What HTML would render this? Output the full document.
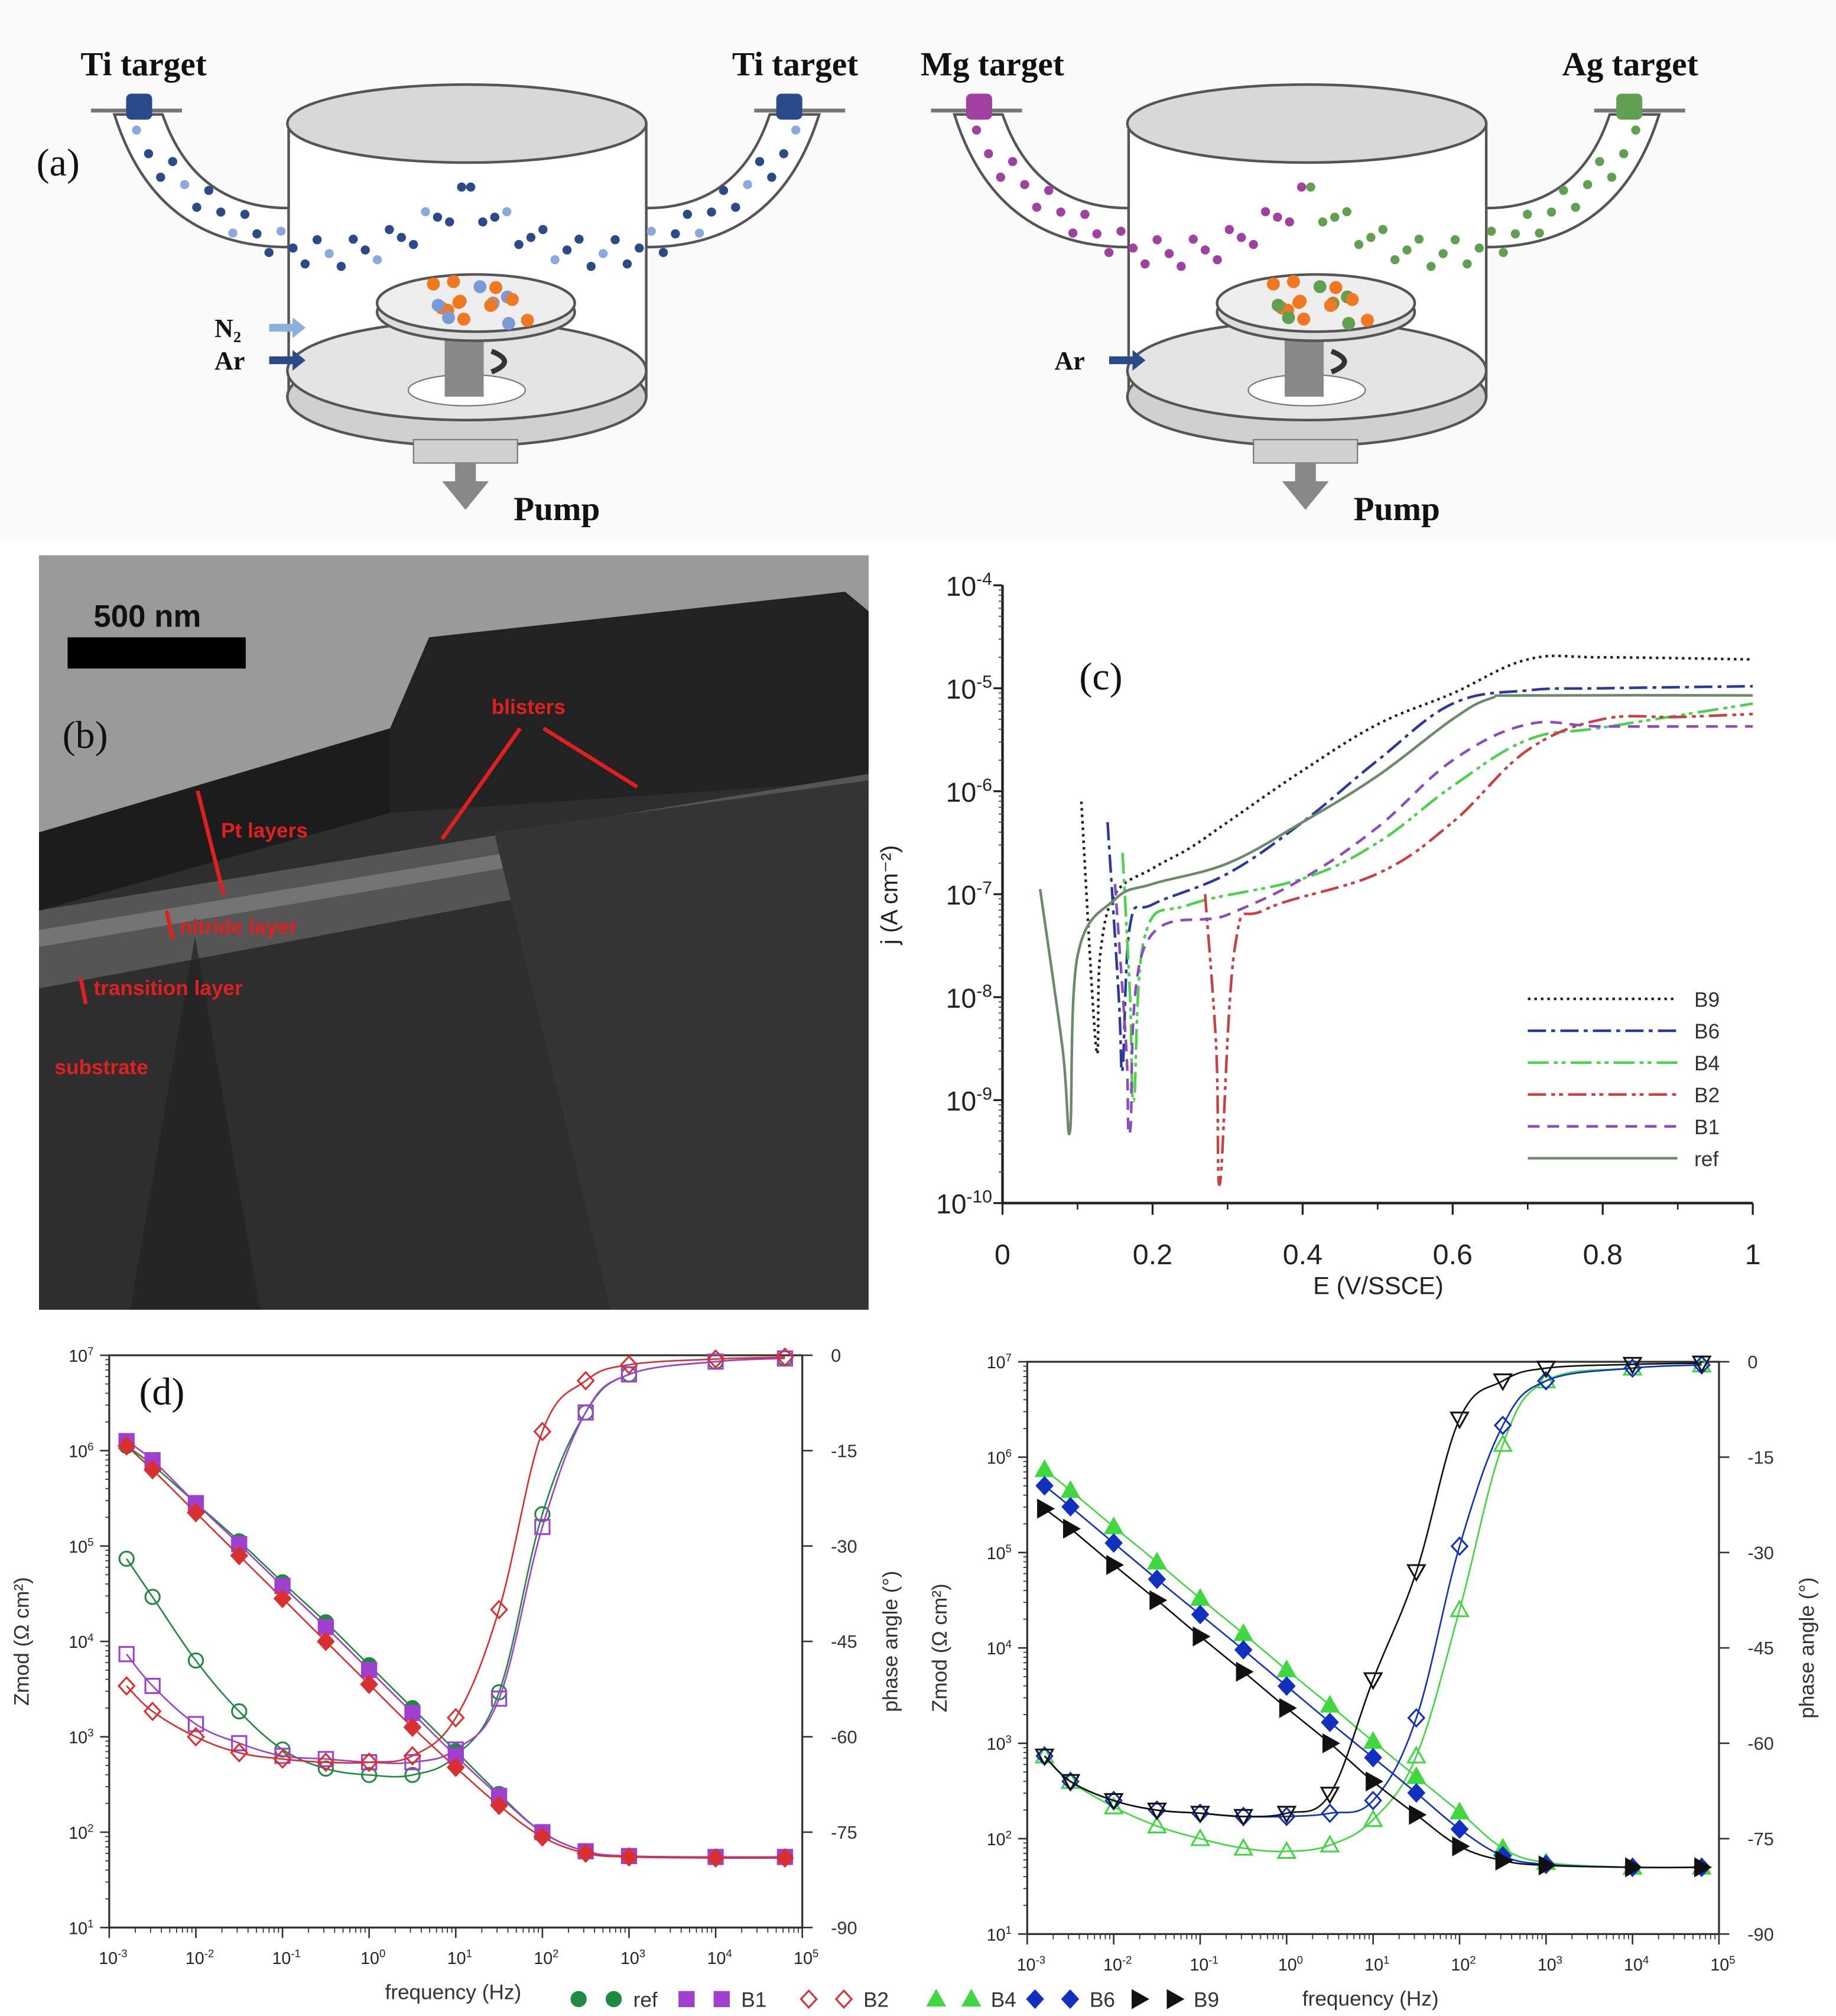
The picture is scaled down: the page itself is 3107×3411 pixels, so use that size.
<!DOCTYPE html>
<html><head><meta charset="utf-8"><style>
html,body{margin:0;padding:0;background:#fff;}
svg{display:block;}
text{font-family:"Liberation Sans",sans-serif;}
.serif{font-family:"Liberation Serif",serif;}
</style></head><body>
<svg id="fig" width="3107" height="3411" viewBox="0 0 1412 1550" preserveAspectRatio="none" xmlns="http://www.w3.org/2000/svg">
<g id="panelA"></g>
<g id="panelB"></g>
<g id="panelC"></g>
<g id="panelD1"></g>
<g id="panelD2"></g>
<g id="legendD"></g>
</svg>
<script>
// ---------- Panel (c) data ----------
const cSeriesNames = ['B9','B6','B4','B2','B1','ref'];
const cE_B9 = [0.105,0.125,0.13,0.15,0.2,0.25,0.3,0.4,0.5,0.6,0.7,0.8,1.0];
const cJ_B9 = [-6.1,-8.5,-7.6,-7.0,-6.75,-6.55,-6.3,-5.8,-5.35,-5.05,-4.72,-4.7,-4.72];
const cE_B6 = [0.14,0.155,0.16,0.17,0.2,0.3,0.4,0.5,0.6,0.7,0.8,1.0];
const cJ_B6 = [-6.3,-8.0,-8.7,-7.3,-7.1,-6.8,-6.3,-5.7,-5.15,-5.02,-5.0,-4.98];
const cE_B4 = [0.16,0.17,0.175,0.19,0.25,0.4,0.5,0.6,0.7,0.8,1.0];
const cJ_B4 = [-6.6,-8.0,-9.0,-7.4,-7.1,-6.85,-6.5,-5.95,-5.5,-5.38,-5.15];
const cE_B2 = [0.27,0.285,0.29,0.31,0.35,0.5,0.6,0.7,0.8,0.9,1.0];
const cJ_B2 = [-7.0,-8.5,-9.8,-7.5,-7.15,-6.8,-6.3,-5.6,-5.3,-5.28,-5.25];
const cE_B1 = [0.15,0.165,0.17,0.19,0.3,0.4,0.5,0.6,0.7,0.8,1.0];
const cJ_B1 = [-6.9,-8.5,-9.3,-7.5,-7.2,-6.85,-6.35,-5.7,-5.35,-5.37,-5.37];
const cE_ref = [0.05,0.08,0.09,0.1,0.15,0.2,0.3,0.4,0.5,0.6,0.65,0.7,1.0];
const cJ_ref = [-6.95,-8.5,-9.3,-7.6,-7.05,-6.9,-6.7,-6.3,-5.85,-5.3,-5.1,-5.07,-5.07];
const cXTicks = ['0','0.2','0.4','0.6','0.8','1'];
const cYTicks = [-4,-5,-6,-7,-8,-9,-10];

// ---------- Panel (d) data ----------
const dFreqLog = [-2.8,-2.5,-2,-1.5,-1,-0.5,0,0.5,1,1.5,2,2.5,3,4,4.8];
const zRef = [6.05,5.85,5.45,5.05,4.62,4.2,3.75,3.3,2.85,2.4,2.0,1.8,1.75,1.74,1.74];
const zB1  = [6.1,5.9,5.45,5.02,4.58,4.15,3.7,3.25,2.8,2.38,2.0,1.8,1.75,1.74,1.74];
const zB2  = [6.05,5.8,5.35,4.9,4.45,4.0,3.55,3.1,2.68,2.28,1.95,1.78,1.74,1.73,1.73];
const pRef = [-32,-38,-48,-56,-62,-65,-66,-66,-63,-53,-25,-9,-3,-1,-0.5];
const pB1  = [-47,-52,-58,-61,-63,-63.5,-64,-64,-62,-54,-27,-9,-3,-1,-0.5];
const pB2  = [-52,-56,-60,-62.5,-63.5,-64,-64,-63,-57,-40,-12,-4,-1.5,-0.6,-0.3];
const zB4  = [5.87,5.65,5.27,4.9,4.52,4.15,3.77,3.4,3.02,2.65,2.28,1.9,1.75,1.7,1.7];
const zB6  = [5.7,5.48,5.1,4.72,4.35,3.98,3.6,3.22,2.85,2.48,2.1,1.82,1.73,1.7,1.7];
const zB9  = [5.46,5.25,4.87,4.5,4.12,3.75,3.37,3.0,2.6,2.25,1.92,1.77,1.72,1.7,1.7];
const pB4  = [-62,-66,-70,-73,-75,-76.5,-77,-76,-72,-62,-39,-13,-3,-1,-0.5];
const pB6  = [-62,-66,-69,-70.5,-71,-71.5,-71.5,-71,-69,-56,-29,-10,-3,-1,-0.5];
const pB9  = [-62,-66,-69,-70.5,-71,-71.5,-71,-68,-50,-33,-9,-3,-1,-0.4,-0.2];
const dXTickExp = [-3,-2,-1,0,1,2,3,4,5];
const dYTickExp = [7,6,5,4,3,2,1];
const dPhaseTicks = [0,-15,-30,-45,-60,-75,-90];

const NS='http://www.w3.org/2000/svg';
function mk(tag, parent, attrs){const e=document.createElementNS(NS,tag);for(const k in attrs)e.setAttribute(k,attrs[k]);parent.appendChild(e);return e;}
function smooth(pts){
  let d='M'+pts[0][0].toFixed(1)+','+pts[0][1].toFixed(1);
  for(let i=0;i<pts.length-1;i++){
    const p0=pts[Math.max(0,i-1)],p1=pts[i],p2=pts[i+1],p3=pts[Math.min(pts.length-1,i+2)];
    const t=0.18;
    const c1=[p1[0]+(p2[0]-p0[0])*t,p1[1]+(p2[1]-p0[1])*t];
    const c2=[p2[0]-(p3[0]-p1[0])*t,p2[1]-(p3[1]-p1[1])*t];
    d+='C'+c1[0].toFixed(1)+','+c1[1].toFixed(1)+' '+c2[0].toFixed(1)+','+c2[1].toFixed(1)+' '+p2[0].toFixed(1)+','+p2[1].toFixed(1);
  }
  return d;
}
function sup(parent,x,y,base,exp,size,anchor){
  const t=mk('text',parent,{x:x,y:y,'font-size':size,'text-anchor':anchor||'end',fill:'#222'});
  const a=document.createElementNS(NS,'tspan');a.textContent=base;t.appendChild(a);
  const b=document.createElementNS(NS,'tspan');b.setAttribute('dy',-size*0.4);b.setAttribute('font-size',size*0.65);b.textContent=exp;t.appendChild(b);
  return t;
}

// ================= Panel A =================
const A=document.getElementById('panelA');
mk('rect',A,{x:0,y:0,width:1412,height:415,fill:'#fafafa'});
function chamber(ox,leftLbl,rightLbl,leftCol,rightCol,gases){
  const g=mk('g',A,{});
  mk('path',g,{d:`M${ox+88},88 Q${ox+120},190 ${ox+222},190 L${ox+222},160 Q${ox+150},160 ${ox+125},88 Z`,fill:'#fff',stroke:'#555','stroke-width':2});
  mk('path',g,{d:`M${ox+630},88 Q${ox+598},190 ${ox+497},190 L${ox+497},160 Q${ox+568},160 ${ox+592},88 Z`,fill:'#fff',stroke:'#555','stroke-width':2});
  mk('rect',g,{x:ox+222,y:95,width:275,height:210,fill:'#fff',stroke:'#555','stroke-width':2});
  mk('rect',g,{x:ox+223,y:160,width:8,height:30,fill:'#fff'});
  mk('rect',g,{x:ox+488,y:160,width:8,height:30,fill:'#fff'});
  mk('ellipse',g,{cx:ox+359,cy:95,rx:138,ry:30,fill:'#d8d8d8',stroke:'#555','stroke-width':2});
  mk('ellipse',g,{cx:ox+359,cy:305,rx:138,ry:38,fill:'#d0d0d0',stroke:'#555','stroke-width':2});
  mk('ellipse',g,{cx:ox+359,cy:285,rx:138,ry:38,fill:'#e4e4e4',stroke:'#555','stroke-width':2});
  mk('ellipse',g,{cx:ox+359,cy:300,rx:45,ry:12,fill:'#fff',stroke:'#777'});
  mk('rect',g,{x:ox+342,y:255,width:30,height:50,fill:'#888'});
  mk('path',g,{d:`M${ox+378},270 q20,8 0,16`,fill:'none',stroke:'#333','stroke-width':4});
  mk('rect',g,{x:ox+318,y:338,width:80,height:18,fill:'#d0d0d0',stroke:'#777'});
  mk('path',g,{d:`M${ox+350},356 h16 v14 h10 l-18,22 l-18,-22 h10 z`,fill:'#888'});
  mk('ellipse',g,{cx:ox+366,cy:240,rx:76,ry:22,fill:'#ddd',stroke:'#555','stroke-width':2});
  mk('ellipse',g,{cx:ox+366,cy:233,rx:76,ry:22,fill:'#eee',stroke:'#555','stroke-width':2});
  for(let i=0;i<18;i++){const a=i*2.39,r=12+(i%4)*15;
    mk('circle',g,{cx:ox+366+Math.cos(a)*r*1.1,cy:233+Math.sin(a)*r*0.3,r:5,fill:i%3==2?(ox?rightCol:'#7a9ad8'):'#f07820'});}
  mk('line',g,{x1:ox+70,y1:85,x2:ox+140,y2:85,stroke:'#777','stroke-width':3});
  mk('line',g,{x1:ox+580,y1:85,x2:ox+650,y2:85,stroke:'#777','stroke-width':3});
  mk('rect',g,{x:ox+97,y:72,width:20,height:20,rx:4,fill:leftCol});
  mk('rect',g,{x:ox+597,y:72,width:20,height:20,rx:4,fill:rightCol});
  for(let i=0;i<28;i++){const t=i/27;
    const x=ox+105+t*250,y=100+Math.sin(t*2.6)*85+(i%3)*10;
    mk('circle',g,{cx:x,cy:y,r:3.5,fill:i%4==0?(ox?leftCol:'#8aaadc'):leftCol});}
  for(let i=0;i<28;i++){const t=i/27;
    const x=ox+612-t*250,y=100+Math.sin(t*2.6)*85+(i%3)*10;
    mk('circle',g,{cx:x,cy:y,r:3.5,fill:i%4==0?(ox?rightCol:'#8aaadc'):rightCol});}
  const l1=mk('text',g,{x:ox+62,y:58,'font-size':26,'font-weight':'bold',class:'serif',fill:'#111'});l1.textContent=leftLbl;
  
  
  const l2=mk('text',g,{x:ox+660,y:58,'font-size':26,'font-weight':'bold',class:'serif','text-anchor':'end',fill:'#111'});l2.textContent=rightLbl;
  
  
  const p=mk('text',g,{x:ox+395,y:400,'font-size':26,'font-weight':'bold',class:'serif',fill:'#111'});p.textContent='Pump';
  
  
  gases.forEach((gs,i)=>{
    const yy=gs[2];
    const t=mk('text',g,{x:ox+gs[3],y:yy+7,'font-size':20,'font-weight':'bold',class:'serif',fill:'#111'});t.textContent=gs[0];
    
    
    mk('path',g,{d:`M${ox+gs[3]+42},${yy-3} h18 v-5 l10,8 l-10,8 v-5 h-18 z`,fill:gs[1]});
  });
}
chamber(0,'Ti target','Ti target','#2a4a8a','#2a4a8a',[['N₂','#8ab0e0',252,165],['Ar','#2a4a8a',277,165]]);
chamber(646,'Mg target','Ag target','#a040a0','#60a050',[['Ar','#2a4a8a',277,165]]);
const la=mk('text',A,{x:28,y:135,'font-size':30,class:'serif',fill:'#111'});la.textContent='(a)';



// ================= Panel B =================
const B=document.getElementById('panelB');
mk('rect',B,{x:30,y:427,width:638,height:580,fill:'#2e2e2e'});
mk('path',B,{d:'M30,427 H668 V470 L650,455 L330,490 L300,560 L30,640 Z',fill:'#9a9a9a'});
mk('path',B,{d:'M330,490 L650,455 L668,470 V600 L300,625 L300,560 Z',fill:'#222'});
mk('path',B,{d:'M30,640 L300,560 L300,625 L30,700 Z',fill:'#1c1c1c'});
mk('path',B,{d:'M30,700 L668,595 V640 L30,760 Z',fill:'#555'});
mk('path',B,{d:'M30,715 L668,610 V620 L30,728 Z',fill:'#888',opacity:0.6});
mk('path',B,{d:'M380,640 L470,1007 H668 V600 Z',fill:'#353535'});
mk('path',B,{d:'M150,720 L200,1007 H100 Z',fill:'#222',opacity:0.7});
mk('rect',B,{x:52,y:490,width:137,height:24,fill:'#000'});
const sb=mk('text',B,{x:72,y:482,'font-size':24,'font-weight':'bold',fill:'#111'});sb.textContent='500 nm';


const lb=mk('text',B,{x:48,y:575,'font-size':30,class:'serif',fill:'#111'});lb.textContent='(b)';


const redL=[['blisters',378,549],['Pt layers',170,644],['nitride layer',138,718],['transition layer',72,765],['substrate',42,826]];
redL.forEach(r=>{const t=mk('text',B,{x:r[1],y:r[2],'font-size':16,'font-weight':'bold',fill:'#e02020'});t.textContent=r[0];
  
  });
mk('line',B,{x1:400,y1:560,x2:340,y2:645,stroke:'#e02020','stroke-width':3});
mk('line',B,{x1:418,y1:560,x2:490,y2:605,stroke:'#e02020','stroke-width':3});
mk('line',B,{x1:152,y1:608,x2:172,y2:688,stroke:'#e02020','stroke-width':3});
mk('line',B,{x1:128,y1:700,x2:133,y2:722,stroke:'#e02020','stroke-width':3});
mk('line',B,{x1:62,y1:752,x2:66,y2:772,stroke:'#e02020','stroke-width':3});

// ================= Panel C =================
const C=document.getElementById('panelC');
const cx0=771,cx1=1348,cyTop=450,cyBot=925;
function cX(e){return cx0+e*(cx1-cx0);}
function cY(l){return cyTop+(-4-l)*(cyBot-cyTop)/6;}
mk('line',C,{x1:cx0,y1:cyTop,x2:cx0,y2:cyBot,stroke:'#222','stroke-width':2});
mk('line',C,{x1:cx0,y1:cyBot,x2:cx1,y2:cyBot,stroke:'#222','stroke-width':2});
cYTicks.forEach(l=>{
  mk('line',C,{x1:cx0-7,y1:cY(l),x2:cx0,y2:cY(l),stroke:'#222','stroke-width':1.5});
  for(let m=2;m<10;m++){ if(l>-10){const yy=cY(l-1+Math.log10(m)); mk('line',C,{x1:cx0-3,y1:yy,x2:cx0,y2:yy,stroke:'#444','stroke-width':0.8});}}
  const t=sup(C,cx0-8,cY(l)+8,'10',String(l),21);
  
  
});
cXTicks.forEach((s,i)=>{const x=cX(i*0.2);
  mk('line',C,{x1:x,y1:cyBot,x2:x,y2:cyBot+9,stroke:'#222','stroke-width':1.5});
  mk('line',C,{x1:x+57.7,y1:cyBot,x2:x+57.7,y2:cyBot+5,stroke:'#222','stroke-width':1.2,opacity:i<5?1:0});
  const t=mk('text',C,{x:x,y:cyBot+47,'font-size':22,'text-anchor':'middle',fill:'#222'});t.textContent=s;
  
  });
const cxt=mk('text',C,{x:1060,y:995,'font-size':19,'text-anchor':'middle',fill:'#222'});cxt.textContent='E (V/SSCE)';


const cyt=mk('text',C,{x:0,y:0,'font-size':18,'text-anchor':'middle',fill:'#222',transform:'translate(690,688) rotate(-90)'});cyt.textContent='j (A cm⁻²)';


const lc=mk('text',C,{x:830,y:530,'font-size':30,class:'serif',fill:'#111'});lc.textContent='(c)';


const cStyles={B9:['#222','2,3'],B6:['#2a3a9a','14,4,3,4'],B4:['#4ad24a','16,4,3,3,3,4'],B2:['#c84040','14,4,3,3,3,4'],B1:['#8a4ac0','9,6'],ref:['#6a8a6a','']};
const cData={B9:[cE_B9,cJ_B9],B6:[cE_B6,cJ_B6],B4:[cE_B4,cJ_B4],B2:[cE_B2,cJ_B2],B1:[cE_B1,cJ_B1],ref:[cE_ref,cJ_ref]};
cSeriesNames.forEach((n,i)=>{
  const d=cData[n];
  const pts=d[0].map((e,k)=>[cX(e),cY(d[1][k])]);
  const pa=mk('path',C,{d:smooth(pts),fill:'none',stroke:cStyles[n][0],'stroke-width':2,'stroke-dasharray':cStyles[n][1],'stroke-linejoin':'round'});
  
  
  const ly=768+i*24.5;
  const ll=mk('line',C,{x1:1175,y1:ly,x2:1290,y2:ly,stroke:cStyles[n][0],'stroke-width':2,'stroke-dasharray':cStyles[n][1]});
  
  
  const lt=mk('text',C,{x:1303,y:ly+6,'font-size':16,fill:'#333'});lt.textContent=n;
  
  
});

// ================= Panel D =================
function marker(g,type,x,y,col,filled){
  const f=filled?col:'none',s=col,w=1.4;let e;
  if(type=='circle') e=mk('circle',g,{cx:x,cy:y,r:5.5,fill:f,stroke:s,'stroke-width':w});
  else if(type=='square') e=mk('rect',g,{x:x-5.5,y:y-5.5,width:11,height:11,fill:f,stroke:s,'stroke-width':w});
  else if(type=='diamond') e=mk('path',g,{d:`M${x},${y-6.5}L${x+6},${y}L${x},${y+6.5}L${x-6},${y}Z`,fill:f,stroke:s,'stroke-width':w});
  else if(type=='tri') e=mk('path',g,{d:`M${x},${y-6.5}L${x+6.5},${y+5}L${x-6.5},${y+5}Z`,fill:f,stroke:s,'stroke-width':w});
  else if(type=='triR') e=mk('path',g,{d:`M${x+6.5},${y}L${x-5},${y-6.5}L${x-5},${y+6.5}Z`,fill:f,stroke:s,'stroke-width':w});
  else if(type=='triD') e=mk('path',g,{d:`M${x},${y+6.5}L${x+6.5},${y-5}L${x-6.5},${y-5}Z`,fill:f,stroke:s,'stroke-width':w});
  
  
}
function bode(G,x0,x1,y0,y1,series,leftTitleX,rightTitleX,label){
  const X=f=>x0+(f+3)*(x1-x0)/8;
  const YZ=z=>y0+(7-z)*(y1-y0)/6;
  const YP=p=>y0+(-p)*(y1-y0)/90;
  mk('rect',G,{x:x0,y:y0,width:x1-x0,height:y1-y0,fill:'none',stroke:'#333','stroke-width':1.5});
  dXTickExp.forEach(e=>{const x=X(e);
    mk('line',G,{x1:x,y1:y1,x2:x,y2:y1+8,stroke:'#333','stroke-width':1.2});
    if(e<5)for(let m=2;m<10;m++){const xx=X(e+Math.log10(m));mk('line',G,{x1:xx,y1:y1,x2:xx,y2:y1+4,stroke:'#333','stroke-width':0.8});}
    const t=sup(G,x+3,y1+28,'10',String(e),13,'middle');
    
    });
  dYTickExp.forEach(e=>{const y=YZ(e);
    mk('line',G,{x1:x0-7,y1:y,x2:x0,y2:y,stroke:'#333','stroke-width':1.2});
    if(e>1)for(let m=2;m<10;m++){const yy=YZ(e-1+Math.log10(m));mk('line',G,{x1:x0-3,y1:yy,x2:x0,y2:yy,stroke:'#333','stroke-width':0.8});}
    const t=sup(G,x0-12,y+5,'10',String(e),13);
    
    });
  dPhaseTicks.forEach(p=>{const y=YP(p);
    mk('line',G,{x1:x1,y1:y,x2:x1+8,y2:y,stroke:'#333','stroke-width':1.2});
    const t=mk('text',G,{x:x1+22,y:y+5,'font-size':14,fill:'#333'});t.textContent=String(p);
    
    });
  const yt=mk('text',G,{x:0,y:0,'font-size':16,'text-anchor':'middle',fill:'#333',transform:`translate(${leftTitleX},${(y0+y1)/2}) rotate(-90)`});yt.textContent='Zmod (Ω cm²)';
  
  
  const pt=mk('text',G,{x:0,y:0,'font-size':16,'text-anchor':'middle',fill:'#333',transform:`translate(${rightTitleX},${(y0+y1)/2}) rotate(-90)`});pt.textContent='phase angle (°)';
  
  
  const xt=mk('text',G,{x:(x0+x1)/2-2,y:y1+55,'font-size':16,'text-anchor':'middle',fill:'#333'});xt.textContent='frequency (Hz)';
  
  
  if(label){const l=mk('text',G,{x:107,y:1080,'font-size':30,class:'serif',fill:'#111'});l.textContent=label;
    
    }
  series.forEach(s=>{
    [[s.z,YZ,s.mz,true],[s.p,YP,s.mp,false]].forEach(([arr,Yf,mt,filled])=>{
      const pts=dFreqLog.map((f,k)=>[X(f),Yf(arr[k])]);
      const pa=mk('path',G,{d:smooth(pts),fill:'none',stroke:s.col,'stroke-width':1.2});
      
      
      dFreqLog.forEach((f,k)=>marker(G,mt,X(f),Yf(arr[k]),s.col,filled));
    });
  });
}
bode(document.getElementById('panelD1'),84,617,1042,1482,[
  {name:'ref',z:zRef,p:pRef,col:'#1f8a40',mz:'circle',mp:'circle'},
  {name:'b1',z:zB1,p:pB1,col:'#a040d0',mz:'square',mp:'square'},
  {name:'b2',z:zB2,p:pB2,col:'#d83030',mz:'diamond',mp:'diamond'}],22,690,'(d)');
bode(document.getElementById('panelD2'),790,1322,1047,1487,[
  {name:'b4',z:zB4,p:pB4,col:'#40d840',mz:'tri',mp:'tri'},
  {name:'b6',z:zB6,p:pB6,col:'#1030c0',mz:'diamond',mp:'diamond'},
  {name:'b9',z:zB9,p:pB9,col:'#111',mz:'triR',mp:'triD'}],728,1395,null);
const LG=document.getElementById('legendD');
const legItems=[['ref','#1f8a40','circle',445],['B1','#a040d0','square',528],['B2','#d83030','diamond',622],['B4','#40d840','tri',720],['B6','#1030c0','diamond',796],['B9','#111','triR',876]];
legItems.forEach(it=>{
  marker(LG,it[2],it[3],1537,it[1],it[0]!='B2');
  marker(LG,it[2],it[3]+27,1537,it[1],it[0]!='B2');
  const t=mk('text',LG,{x:it[3]+42,y:1543,'font-size':16,fill:'#333'});t.textContent=it[0];
  
  
});
</script>
</body></html>
